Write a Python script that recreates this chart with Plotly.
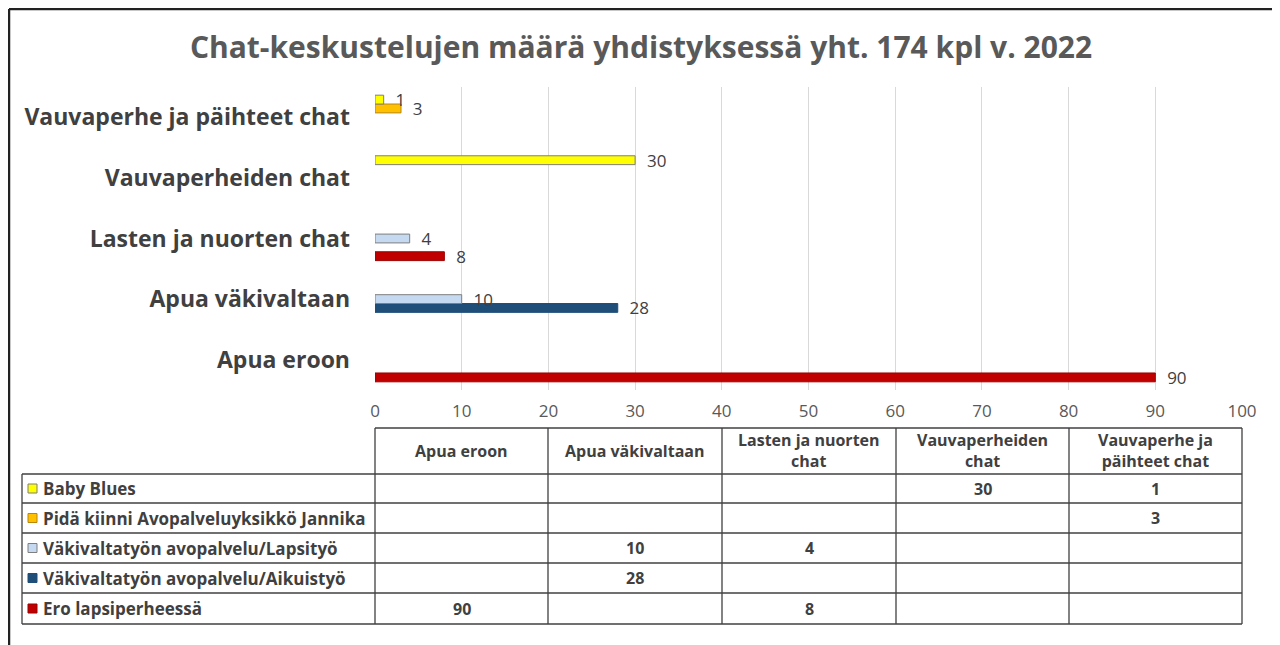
import plotly.graph_objects as go

# Categories (bottom to top on the chart, left to right in the table)
categories = ["Apua eroon", "Apua väkivaltaan", "Lasten ja nuorten chat",
              "Vauvaperheiden chat", "Vauvaperhe ja päihteet chat"]
table_headers = ["Apua eroon", "Apua väkivaltaan", "Lasten ja nuorten<br>chat",
                 "Vauvaperheiden<br>chat", "Vauvaperhe ja<br>päihteet chat"]

# Series values (None = no chat)
ero_lapsiperheessa = [90, None, 8, None, None]
aikuistyo = [None, 28, None, None, None]
lapsityo = [None, 10, 4, None, None]
pida_kiinni = [None, None, None, None, 3]
baby_blues = [None, None, None, 30, 1]

series_names = ["Ero lapsiperheessä", "Väkivaltatyön avopalvelu/Aikuistyö",
                "Väkivaltatyön avopalvelu/Lapsityö",
                "Pidä kiinni Avopalveluyksikkö Jannika", "Baby Blues"]
series_values = [ero_lapsiperheessa, aikuistyo, lapsityo, pida_kiinni, baby_blues]
fill_colors = ["#C00000", "#1F4E79", "#C5D9F1", "#FFC000", "#FFFF00"]
line_colors = ["#9A0000", "#1F4E79", "#7F7F7F", "#B8860B", "#7F7F7F"]

x_ticks = [0, 10, 20, 30, 40, 50, 60, 70, 80, 90, 100]

TEXT = "#404040"
FONT = "Open Sans"

# page offset (body margin) and figure size
OFF = 8
W, H = 1280 - OFF, 645 - OFF
# plot area in page pixels
L, R, T, B = 375, 1242, 87, 390


def px(x):
    return (x - L) / (R - L)


def py(y):
    return (B - y) / (B - T)


fig = go.Figure()
for name, vals, fc, lc in zip(series_names, series_values, fill_colors, line_colors):
    fig.add_trace(go.Bar(
        y=categories, x=vals, name=name, orientation="h",
        marker=dict(color=fc, line=dict(color=lc, width=1)),
        text=[("" if v is None else "\u00a0\u00a0" + str(v)) for v in vals],
        textposition="outside", cliponaxis=False, constraintext="none",
        textfont=dict(family=FONT, size=17, color=TEXT),
    ))

shapes = []
annotations = []

# outer frame (top and left)
shapes.append(dict(type="line", xref="paper", yref="paper",
                   x0=px(OFF + 1), x1=px(1290), y0=py(OFF + 1), y1=py(OFF + 1),
                   line=dict(color="#222222", width=2.5)))
shapes.append(dict(type="line", xref="paper", yref="paper",
                   x0=px(OFF + 1), x1=px(OFF + 1), y0=py(OFF + 1), y1=py(660),
                   line=dict(color="#222222", width=2.5)))

# data table
col_edges = [375, 548, 722, 896, 1069, 1242]
row_edges = [474, 503, 533, 563, 593, 624]
head_top = 428
grid_line = dict(color="#404040", width=1.3)

shapes.append(dict(type="line", xref="paper", yref="paper",
                   x0=px(375), x1=px(1242), y0=py(head_top), y1=py(head_top), line=grid_line))
for xe in col_edges:
    shapes.append(dict(type="line", xref="paper", yref="paper",
                       x0=px(xe), x1=px(xe), y0=py(head_top), y1=py(row_edges[-1]), line=grid_line))
for ye in row_edges:
    shapes.append(dict(type="line", xref="paper", yref="paper",
                       x0=px(22), x1=px(1242), y0=py(ye), y1=py(ye), line=grid_line))
shapes.append(dict(type="line", xref="paper", yref="paper",
                   x0=px(22), x1=px(22), y0=py(row_edges[0]), y1=py(row_edges[-1]), line=grid_line))

for i, h in enumerate(table_headers):
    cx = (col_edges[i] + col_edges[i + 1]) / 2
    annotations.append(dict(xref="paper", yref="paper", x=px(cx), y=py((head_top + row_edges[0]) / 2),
                            text="<b>%s</b>" % h, showarrow=False, xanchor="center", yanchor="middle",
                            font=dict(family=FONT, size=16, color=TEXT)))

# table rows: legend order top to bottom is reverse of trace order
for r, k in enumerate(reversed(range(len(series_names)))):
    cy = (row_edges[r] + row_edges[r + 1]) / 2
    annotations.append(dict(xref="paper", yref="paper", x=px(41), y=py(cy),
                            text="<b>%s</b>" % series_names[k], showarrow=False,
                            xanchor="left", yanchor="middle",
                            font=dict(family=FONT, size=17, color=TEXT)))
    shapes.append(dict(type="rect", xref="paper", yref="paper",
                       x0=px(28), x1=px(37), y0=py(cy - 4.5), y1=py(cy + 4.5),
                       fillcolor=fill_colors[k], line=dict(color=line_colors[k], width=1)))
    for c, v in enumerate(series_values[k]):
        if v is None:
            continue
        cx = (col_edges[c] + col_edges[c + 1]) / 2
        annotations.append(dict(xref="paper", yref="paper", x=px(cx), y=py(cy),
                                text="<b>%d</b>" % v, showarrow=False,
                                xanchor="center", yanchor="middle",
                                font=dict(family=FONT, size=16, color=TEXT)))

fig.update_layout(
    width=W, height=H,
    paper_bgcolor="white", plot_bgcolor="white",
    margin=dict(l=L - OFF, r=W - (R - OFF), t=T - OFF, b=H - (B - OFF), autoexpand=False),
    barmode="group", bargap=0.27, bargroupgap=0,
    showlegend=False,
    title=dict(text="<b>Chat-keskustelujen määrä yhdistyksessä yht. 174 kpl v. 2022</b>",
               x=(641 - OFF) / W, xanchor="center", y=1 - (47 - OFF) / H, yanchor="middle",
               font=dict(family=FONT, size=30, color="#595959")),
    xaxis=dict(range=[0, 100], tickvals=x_ticks, showgrid=True, gridcolor="#D9D9D9",
               zeroline=False, showline=False, ticks="", automargin=False,
               ticklabelstandoff=9,
               tickfont=dict(family=FONT, size=17, color="#595959")),
    yaxis=dict(categoryorder="array", categoryarray=categories, showgrid=False,
               ticks="", ticklabelstandoff=24, automargin=False,
               tickvals=categories, ticktext=["<b>%s</b>" % c for c in categories],
               tickfont=dict(family=FONT, size=23, color=TEXT)),
    shapes=shapes, annotations=annotations,
)

fig.write_html("out.html")
